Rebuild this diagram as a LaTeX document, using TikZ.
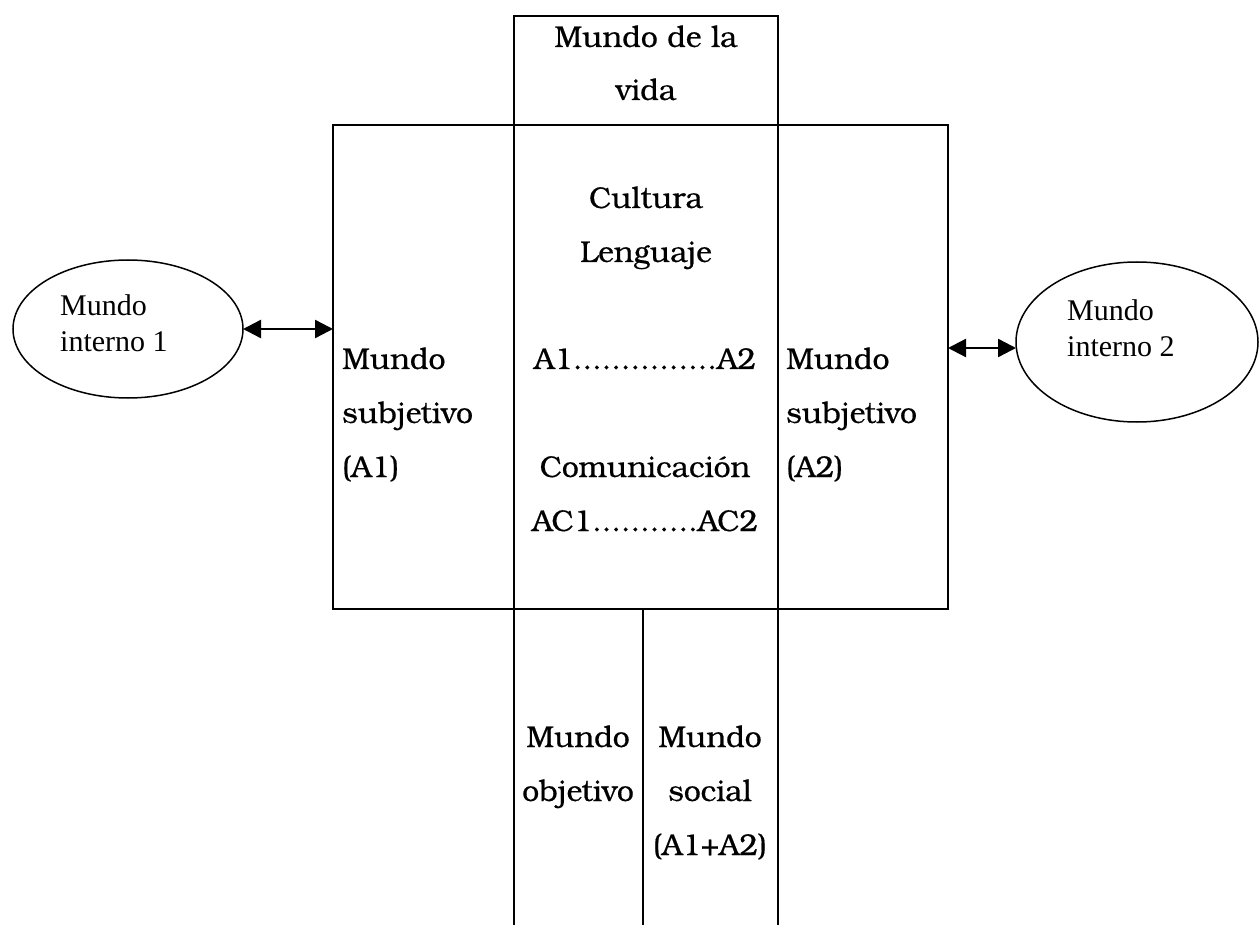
\documentclass[tikz,border=0pt]{standalone}
\usepackage{fontspec}
\newfontfamily\bk[FakeBold=0.5]{TeX Gyre Bonum}
\newfontfamily\tm{Liberation Serif}
\usetikzlibrary{shapes.geometric,arrows.meta}
\tikzset{
  box/.style={draw, line width=1.5pt, inner sep=0pt, outer sep=0pt},
  rule/.style={line width=1.5pt},
  lbl/.style={font=\bk\fontsize{30}{54}\selectfont, anchor=base, inner sep=0pt},
  llbl/.style={lbl, anchor=base west},
  ell/.style={draw, ellipse, inner sep=0pt, outer sep=0pt, line width=1.5pt},
  etxt/.style={font=\tm\fontsize{30}{35}\selectfont, anchor=base west, inner sep=0pt},
  arr/.style={{Triangle[length=18pt,width=18pt]}-{Triangle[length=18pt,width=18pt]}, line width=2.4pt}
}
\begin{document}
\begin{tikzpicture}[x=1pt,y=-1pt]
\path[use as bounding box, fill=white] (0,0) rectangle (1259,925);
% boxes
\node[box, anchor=north west, minimum width=615pt, minimum height=484pt] (main) at (333,125) {};
\node[box, anchor=south west, minimum width=264pt, minimum height=109pt] (top) at (514,125) {};
\coordinate (b1) at (514,925);
\coordinate (b2) at (643,925);
\coordinate (b3) at (778,925);
\coordinate (m2) at (643,609);
\draw[rule] (top.south west) -- (b1);
\draw[rule] (top.south east) -- (b3);
\draw[rule] (m2) -- (b2);
% ellipses
\node[ell, minimum width=230pt, minimum height=138pt] (e1) at (128,329) {};
\node[ell, minimum width=242pt, minimum height=160pt] (e2) at (1137,342) {};
\node[etxt] (e1a) at (60,316) {Mundo};
\node[etxt] (e1b) at (60,352) {interno 1};
\node[etxt] (e2a) at (1067,321) {Mundo};
\node[etxt] (e2b) at (1067,357) {interno 2};
% arrows
\coordinate (pl) at (e1.east);
\coordinate (pr) at ([yshift=-6pt]e2.west);
\draw[arr] (pl) -- (pl -| main.west);
\draw[arr] (pr -| main.east) -- (pr);
% top box text
\node[lbl] (t1) at (646,47) {Mundo de la};
\node[lbl] (t2) at (646,100) {vida};
% center column
\node[lbl] (c1) at (646,208) {Cultura};
\node[lbl] (c2) at (646,262) {Lenguaje};
\node[lbl] (c3) at (645,369) {A1...............A2};
\node[lbl] (c4) at (645,477) {Comunicación};
\node[lbl] (c5) at (645,531) {AC1...........AC2};
% left column
\node[llbl] (l1) at (342,369) {Mundo};
\node[llbl] (l2) at (342,423) {subjetivo};
\node[llbl] (l3) at (342,477) {(A1)};
% right column
\node[llbl] (r1) at (786,369) {Mundo};
\node[llbl] (r2) at (786,423) {subjetivo};
\node[llbl] (r3) at (786,477) {(A2)};
% lower columns
\node[lbl] (o1) at (578,747) {Mundo};
\node[lbl] (o2) at (578,801) {objetivo};
\node[lbl] (s1) at (710,747) {Mundo};
\node[lbl] (s2) at (710,801) {social};
\node[lbl] (s3) at (710,855) {(A1+A2)};
\end{tikzpicture}
\end{document}
